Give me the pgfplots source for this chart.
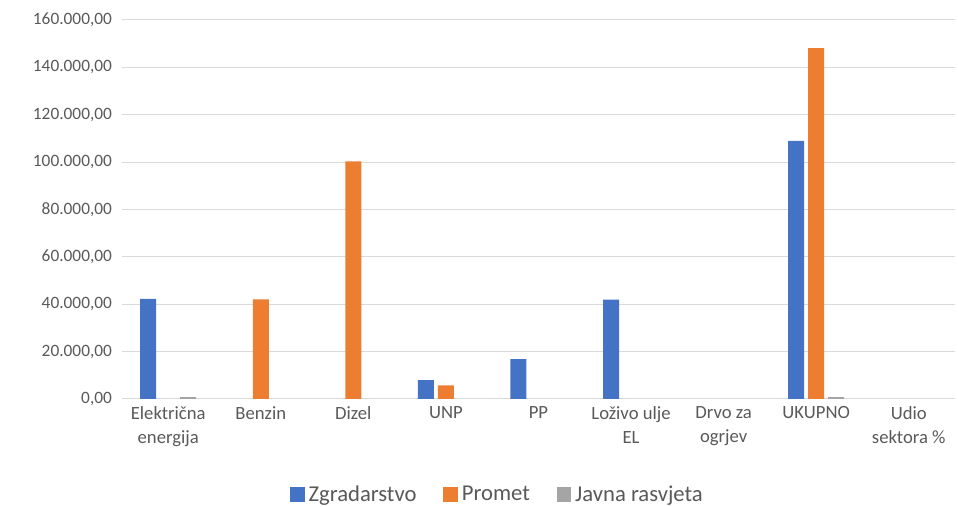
\documentclass[border=0pt]{standalone}
\usepackage{pgfplots}
\pgfplotsset{compat=1.18}
\usepackage{fontspec}
\setmainfont{Carlito}
\usetikzlibrary{calc}
\definecolor{cblue}{HTML}{4472C4}
\definecolor{corange}{HTML}{ED7D31}
\definecolor{cgray}{HTML}{A5A5A5}
\definecolor{ctext}{HTML}{595959}
\definecolor{cgrid}{HTML}{D9D9D9}
\begin{document}
\begin{tikzpicture}
\begin{axis}[
  name=ax,
  scale only axis,
  width=625pt, height=284.25pt,
  ybar=3pt, bar width=12pt,
  xmin=-0.5, xmax=8.5,
  ymin=0, ymax=160000,
  scaled y ticks=false,
  xtick={0,...,8},
  xticklabels={{Električna\\energija},Benzin,Dizel,UNP,PP,{Loživo ulje\\EL},{Drvo za\\ogrjev},UKUPNO,{Udio\\sektora \%}},
  xticklabel style={align=center, font=\fontsize{14}{18}\selectfont, text=ctext, yshift=-2pt},
  ytick={0,20000,...,160000},
  yticklabels={{0,00},{20.000,00},{40.000,00},{60.000,00},{80.000,00},{100.000,00},{120.000,00},{140.000,00},{160.000,00}},
  yticklabel style={font=\fontsize{13}{15}\selectfont, text=ctext, xshift=-4pt},
  major tick length=0pt,
  ymajorgrids, grid style={cgrid, line width=0.75pt},
  axis x line*=bottom, axis y line*=left,
  x axis line style={cgrid, line width=0.75pt, -},
  y axis line style={draw=none},
  legend style={at={(0.451,-0.252)}, anchor=center, draw=none, legend columns=3, font=\fontsize{17}{19}\selectfont, text=ctext, /tikz/every even column/.append style={column sep=18pt}, /tikz/every odd column/.append style={column sep=1pt}},
  legend image code/.code={\fill[#1] (0pt,-5.5pt) rectangle (11pt,5.5pt);},
  clip=false,
]
\addplot[fill=cblue, draw=none] coordinates {(0,42200) (3,7900) (4,16750) (5,41900) (7,108900)};
\addplot[fill=corange, draw=none] coordinates {(1,42000) (2,100300) (3,5700) (7,148100)};
\addplot[fill=cgray, draw=none] coordinates {(0,700) (7,700)};
\legend{Zgradarstvo,Promet,Javna rasvjeta}
\end{axis}
\pgfresetboundingbox
\path ($(ax.south west)+(-91.5pt,-81pt)$) rectangle ($(ax.north east)+(2.25pt,15pt)$);
\end{tikzpicture}
\end{document}
